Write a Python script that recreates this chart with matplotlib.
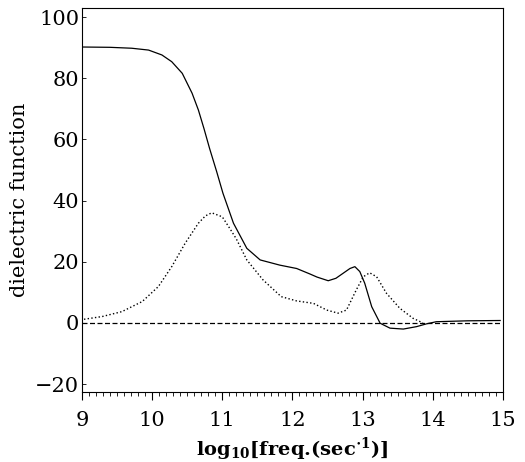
import numpy as np
import matplotlib
matplotlib.use('Agg')
import matplotlib.pyplot as plt
from matplotlib.ticker import MultipleLocator

plt.rcParams['font.family'] = ['DejaVu Serif']
plt.rcParams['mathtext.fontset'] = 'dejavuserif'

# real part (solid)
x_re = [9.0, 9.4, 9.71, 9.95, 10.14, 10.28, 10.43, 10.57, 10.66, 10.74, 10.82, 10.92,
        11.01, 11.16, 11.35, 11.54, 11.82, 12.06, 12.25, 12.35, 12.51, 12.62, 12.72,
        12.82, 12.89, 12.96, 13.03, 13.13, 13.25, 13.39, 13.58, 13.77, 13.91, 14.05,
        14.5, 14.96]
y_re = [90.2, 90.1, 89.8, 89.2, 87.6, 85.4, 81.6, 75.1, 69.6, 63.5, 57.0, 49.5,
        42.4, 32.6, 24.4, 20.6, 18.9, 17.8, 16.0, 15.0, 13.8, 14.6, 16.2,
        17.8, 18.4, 16.8, 13.0, 5.3, -0.1, -1.7, -2.0, -1.2, -0.3, 0.4,
        0.7, 0.8]

# imaginary part (dotted)
x_im = [9.03, 9.29, 9.57, 9.86, 10.09, 10.28, 10.47, 10.66, 10.76, 10.85, 11.0, 11.11,
        11.2, 11.35, 11.58, 11.84, 12.06, 12.3, 12.49, 12.65, 12.77, 12.91, 13.01,
        13.1, 13.2, 13.34, 13.53, 13.72, 13.86]
y_im = [1.2, 2.1, 3.7, 7.0, 11.9, 18.4, 26.0, 32.6, 35.0, 36.0, 34.7, 30.8,
        27.5, 20.6, 14.1, 8.6, 7.2, 6.4, 4.2, 3.2, 4.2, 10.8, 15.1,
        16.4, 15.1, 9.7, 4.8, 1.5, 0.0]

x_zero = [9.0, 14.97]
y_zero = [0.0, 0.0]

fig = plt.figure(figsize=(5.25, 4.62), dpi=100)
ax = fig.add_axes([0.156, 0.152, 0.802, 0.831])

ax.plot(x_re, y_re, 'k-', lw=0.9)
ax.plot(x_im, y_im, 'k:', lw=1.0)
ax.plot(x_zero, y_zero, 'k--', lw=0.9, dashes=(4, 2))

ax.set_xlim(9, 15)
ax.set_ylim(-22.5, 103)
ax.set_xticks(range(9, 16))
ax.set_yticks([-20, 0, 20, 40, 60, 80, 100])
ax.set_yticklabels(['\u221220', '0', '20', '40', '60', '80', '100'])
ax.xaxis.set_minor_locator(MultipleLocator(0.1))
ax.tick_params(axis='x', which='major', direction='out', length=6, width=0.8, labelsize=15, pad=8)
ax.tick_params(axis='x', which='minor', direction='out', length=3, width=0.6)
ax.tick_params(axis='y', which='major', direction='in', length=3, width=0.6, labelsize=15, pad=2)
for s in ax.spines.values():
    s.set_linewidth(0.8)

ax.set_xlabel(r'log$_{\mathbf{10}}$[freq.(sec$^{\mathbf{\cdot 1}}$)]', fontsize=14,
              fontweight='bold', labelpad=4)
ax.set_ylabel('dielectric function', fontsize=15, labelpad=4)

fig.savefig('out.png', dpi=100)
